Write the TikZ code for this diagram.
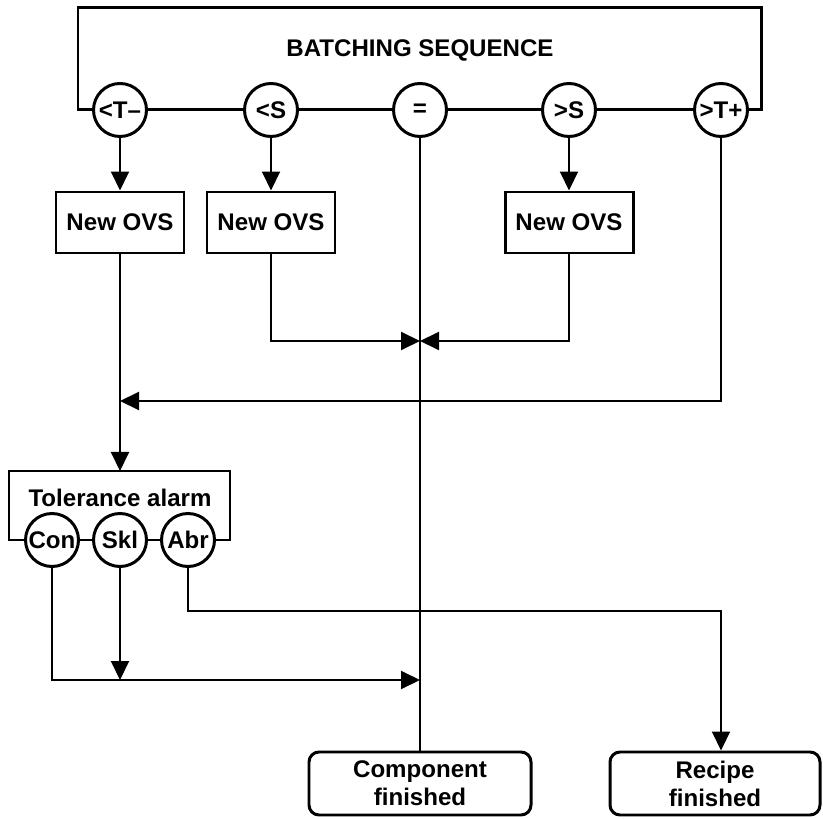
\documentclass[tikz,border=0pt]{standalone}
\usepackage{fontspec}
\setmainfont{Liberation Sans}
\usetikzlibrary{arrows.meta,positioning,calc}

\begin{document}
\begin{tikzpicture}[line join=miter]
\tikzstyle{every node}=[font=\bfseries\fontsize{13.7}{15.9}\selectfont]
\tikzstyle{state}=[circle, draw, line width=1.7pt, minimum size=1.06cm, inner sep=0pt, fill=white]
\tikzstyle{ovs}=[rectangle, draw, line width=1.7pt, minimum width=2.56cm, minimum height=1.22cm]
\tikzstyle{done}=[rectangle, rounded corners=0.2cm, draw, line width=1.7pt, minimum height=1.26cm, align=center]
\tikzstyle{frame}=[line width=1.7pt]
\tikzstyle{conn}=[line width=1.15pt]
\tikzstyle{arr}=[conn, -{Triangle[length=0.38cm, width=0.36cm]}]

\useasboundingbox (0,0) rectangle (16.46,-16.38);

% batching sequence
\node (seq) at (8.4,-1.0) {BATCHING SEQUENCE};
\node[state] (lowT) at (2.4,-2.2) {<T\textendash};
\node[state] (lowS) at (5.42,-2.2) {<S};
\node[state] (eq) at (8.4,-2.2) {=};
\node[state] (highS) at (11.38,-2.2) {>S};
\node[state] (highT) at (14.42,-2.2) {>T+};
\coordinate (seqNW) at (1.56,-0.16);
\coordinate (seqNE) at (15.22,-0.16);
\draw[frame] (lowT.west) -| (seqNW) -- (seqNE) |- (highT.east);
\draw[frame] (lowT) -- (lowS) -- (eq) -- (highS) -- (highT);

\node[ovs] (ovs1) at (2.4,-4.45) {New OVS};
\node[ovs] (ovs2) at (5.42,-4.45) {New OVS};
\node[ovs] (ovs3) at (11.38,-4.45) {New OVS};

% tolerance alarm
\node (tol) at (2.4,-9.96) {Tolerance alarm};
\node[state] (con) at (1.04,-10.8) {Con};
\node[state] (skl) at (2.4,-10.8) {Skl};
\node[state] (abr) at (3.76,-10.8) {Abr};
\coordinate (tolNW) at (0.18,-9.42);
\coordinate (tolNE) at (4.6,-9.42);
\draw[frame] (con.west) -| (tolNW) -- (tolNE) |- (abr.east);
\draw[frame] (con) -- (skl) -- (abr);

\node[done, minimum width=4.44cm] (comp) at (8.4,-15.67) {Component\\finished};
\node[done, minimum width=4.2cm] (recipe) at (14.3,-15.67) {Recipe\\finished};

% connectors
\coordinate (merge) at (8.4,-6.82);
\coordinate (join) at (2.4,-8.02);
\coordinate (collect) at (8.4,-13.6);
\coordinate (abrturn) at (14.42,-12.22);
\draw[arr] (lowT) -- (ovs1);
\draw[arr] (lowS) -- (ovs2);
\draw[arr] (highS) -- (ovs3);
\draw[arr] (ovs2.south) |- (merge);
\draw[arr] (ovs3.south) |- (merge);
\draw[conn] (eq.south) -- (comp.north);
\draw[arr] (highT.south) |- (join);
\draw[arr] (ovs1.south) -- (ovs1.south |- tolNW);
\draw[arr] (con.south) |- (collect);
\draw[arr] (skl.south) -- (skl |- collect);
\draw[arr] (abr.south) |- (abrturn) -- (abrturn |- recipe.north);
\end{tikzpicture}
\end{document}
